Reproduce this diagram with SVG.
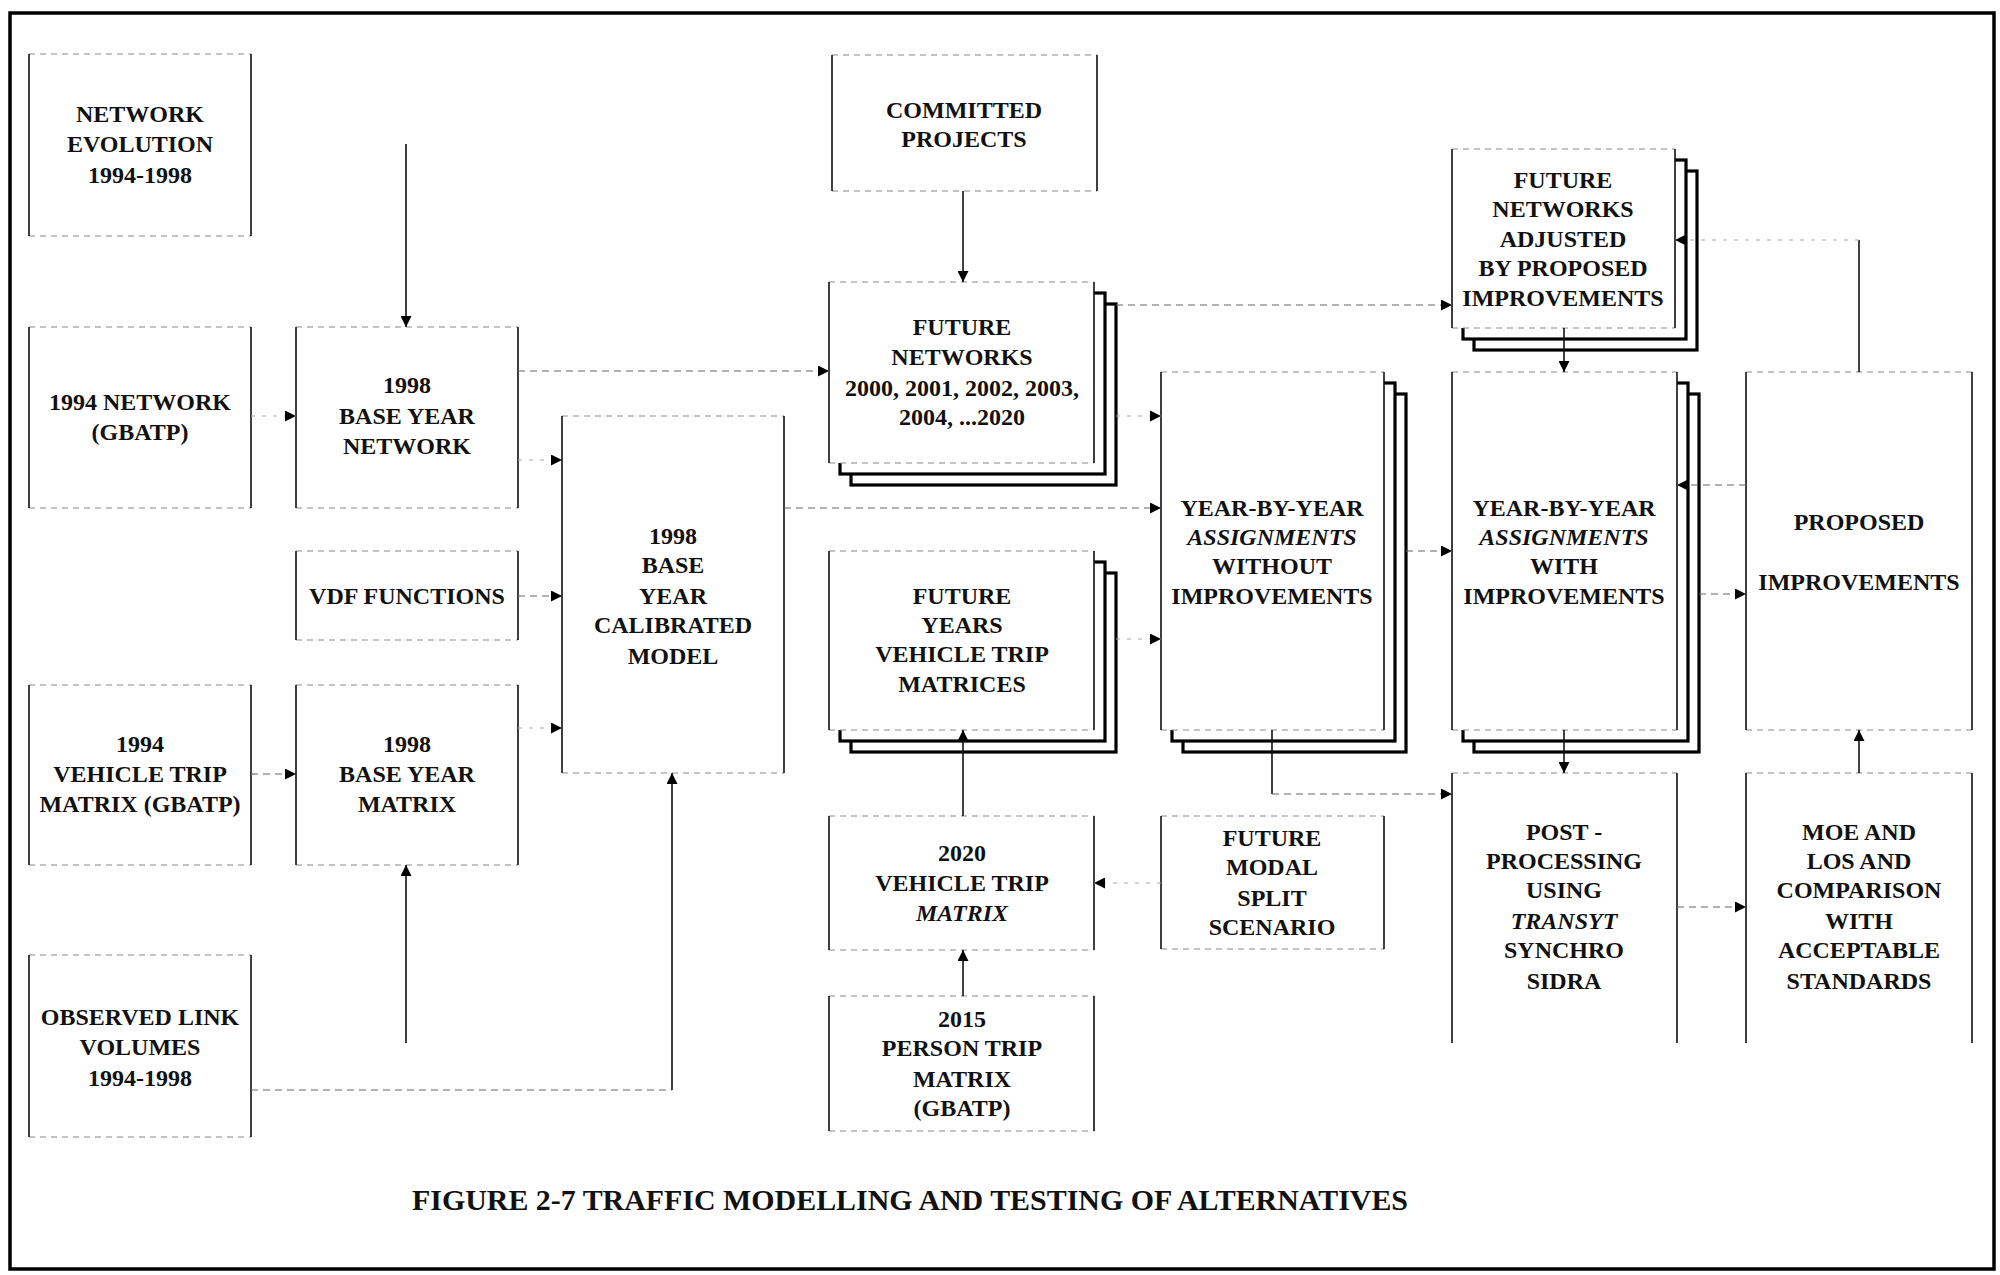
<svg xmlns="http://www.w3.org/2000/svg" width="2000" height="1275" viewBox="0 0 2000 1275">
<style>
.bg{fill:#fff;stroke:none}
.edge{fill:none;stroke:#8a8a8a;stroke-width:1.2;stroke-dasharray:6 5}
.side{fill:none;stroke:#111;stroke-width:1.6}
.layer{fill:#fff;stroke:#000;stroke-width:3.2}
.t{font-family:"Liberation Serif","Times New Roman",serif;font-weight:bold;font-size:24px;text-anchor:middle;fill:#111}
.i{font-style:italic}
.solid{fill:none;stroke:#111;stroke-width:1.6}
.dash{fill:none;stroke:#666;stroke-width:1.2;stroke-dasharray:7 5}
.faint{fill:none;stroke:#aaa;stroke-width:1;stroke-dasharray:4 7}
</style>
<defs>
<marker id="ah" viewBox="0 0 10 10" refX="10" refY="5" markerWidth="12" markerHeight="11" markerUnits="userSpaceOnUse" orient="auto">
<path d="M0,0 L10,5 L0,10 z" fill="#000"/>
</marker>
</defs>
<rect x="0" y="0" width="2000" height="1275" fill="#fff"/>
<rect x="10" y="13" width="1984" height="1256" fill="none" stroke="#000" stroke-width="3.5"/>

<g id="n-network-evolution">
<rect class="bg" x="29" y="54" width="222" height="182"/>
<path class="edge" d="M29 54H251M29 236H251"/>
<path class="side" d="M29 54V236M251 54V236"/>
<text class="t" x="140" y="122">NETWORK</text>
<text class="t" x="140" y="152">EVOLUTION</text>
<text class="t" x="140" y="183">1994-1998</text>
</g>

<g id="n-1994-network">
<rect class="bg" x="29" y="327" width="222" height="181"/>
<path class="edge" d="M29 327H251M29 508H251"/>
<path class="side" d="M29 327V508M251 327V508"/>
<text class="t" x="140" y="410">1994 NETWORK</text>
<text class="t" x="140" y="440">(GBATP)</text>
</g>

<g id="n-1998-base-network">
<rect class="bg" x="296" y="327" width="222" height="181"/>
<path class="edge" d="M296 327H518M296 508H518"/>
<path class="side" d="M296 327V508M518 327V508"/>
<text class="t" x="407" y="393">1998</text>
<text class="t" x="407" y="424">BASE YEAR</text>
<text class="t" x="407" y="454">NETWORK</text>
</g>

<g id="n-vdf">
<rect class="bg" x="296" y="551" width="222" height="89"/>
<path class="edge" d="M296 551H518M296 640H518"/>
<path class="side" d="M296 551V640M518 551V640"/>
<text class="t" x="407" y="604">VDF FUNCTIONS</text>
</g>

<g id="n-1994-vtm">
<rect class="bg" x="29" y="685" width="222" height="180"/>
<path class="edge" d="M29 685H251M29 865H251"/>
<path class="side" d="M29 685V865M251 685V865"/>
<text class="t" x="140" y="752">1994</text>
<text class="t" x="140" y="782">VEHICLE TRIP</text>
<text class="t" x="140" y="812">MATRIX (GBATP)</text>
</g>

<g id="n-1998-base-matrix">
<rect class="bg" x="296" y="685" width="222" height="180"/>
<path class="edge" d="M296 685H518M296 865H518"/>
<path class="side" d="M296 685V865M518 685V865"/>
<text class="t" x="407" y="752">1998</text>
<text class="t" x="407" y="782">BASE YEAR</text>
<text class="t" x="407" y="812">MATRIX</text>
</g>

<g id="n-observed">
<rect class="bg" x="29" y="955" width="222" height="182"/>
<path class="edge" d="M29 955H251M29 1137H251"/>
<path class="side" d="M29 955V1137M251 955V1137"/>
<text class="t" x="140" y="1025">OBSERVED LINK</text>
<text class="t" x="140" y="1055">VOLUMES</text>
<text class="t" x="140" y="1086">1994-1998</text>
</g>

<g id="n-calibrated-model">
<rect class="bg" x="562" y="416" width="222" height="357"/>
<path class="edge" d="M562 416H784M562 773H784"/>
<path class="side" d="M562 416V773M784 416V773"/>
<text class="t" x="673" y="544">1998</text>
<text class="t" x="673" y="573">BASE</text>
<text class="t" x="673" y="604">YEAR</text>
<text class="t" x="673" y="633">CALIBRATED</text>
<text class="t" x="673" y="664">MODEL</text>
</g>

<g id="n-committed">
<rect class="bg" x="832" y="55" width="265" height="136"/>
<path class="edge" d="M832 55H1097M832 191H1097"/>
<path class="side" d="M832 55V191M1097 55V191"/>
<text class="t" x="964" y="118">COMMITTED</text>
<text class="t" x="964" y="147">PROJECTS</text>
</g>

<g id="n-future-networks">
<rect class="layer" x="851" y="304" width="265" height="181"/>
<rect class="layer" x="840" y="293" width="265" height="181"/>
<rect class="bg" x="829" y="282" width="265" height="181"/>
<path class="edge" d="M829 282H1094M829 463H1094"/>
<path class="side" d="M829 282V463M1094 282V463"/>
<text class="t" x="962" y="335">FUTURE</text>
<text class="t" x="962" y="365">NETWORKS</text>
<text class="t" x="962" y="396">2000, 2001, 2002, 2003,</text>
<text class="t" x="962" y="425">2004, ...2020</text>
</g>

<g id="n-future-years-vtm">
<rect class="layer" x="851" y="573" width="265" height="179"/>
<rect class="layer" x="840" y="562" width="265" height="179"/>
<rect class="bg" x="829" y="551" width="265" height="179"/>
<path class="edge" d="M829 551H1094M829 730H1094"/>
<path class="side" d="M829 551V730M1094 551V730"/>
<text class="t" x="962" y="604">FUTURE</text>
<text class="t" x="962" y="633">YEARS</text>
<text class="t" x="962" y="662">VEHICLE TRIP</text>
<text class="t" x="962" y="692">MATRICES</text>
</g>

<g id="n-2020-vtm">
<rect class="bg" x="829" y="816" width="265" height="134"/>
<path class="edge" d="M829 816H1094M829 950H1094"/>
<path class="side" d="M829 816V950M1094 816V950"/>
<text class="t" x="962" y="861">2020</text>
<text class="t" x="962" y="891">VEHICLE TRIP</text>
<text class="t i" x="962" y="921">MATRIX</text>
</g>

<g id="n-2015-ptm">
<rect class="bg" x="829" y="996" width="265" height="135"/>
<path class="edge" d="M829 996H1094M829 1131H1094"/>
<path class="side" d="M829 996V1131M1094 996V1131"/>
<text class="t" x="962" y="1027">2015</text>
<text class="t" x="962" y="1056">PERSON TRIP</text>
<text class="t" x="962" y="1087">MATRIX</text>
<text class="t" x="962" y="1116">(GBATP)</text>
</g>

<g id="n-yby-without">
<rect class="layer" x="1183" y="394" width="223" height="358"/>
<rect class="layer" x="1172" y="383" width="223" height="358"/>
<rect class="bg" x="1161" y="372" width="223" height="358"/>
<path class="edge" d="M1161 372H1384M1161 730H1384"/>
<path class="side" d="M1161 372V730M1384 372V730"/>
<text class="t" x="1272" y="516">YEAR-BY-YEAR</text>
<text class="t i" x="1272" y="545">ASSIGNMENTS</text>
<text class="t" x="1272" y="574">WITHOUT</text>
<text class="t" x="1272" y="604">IMPROVEMENTS</text>
</g>

<g id="n-modal-split">
<rect class="bg" x="1161" y="816" width="223" height="133"/>
<path class="edge" d="M1161 816H1384M1161 949H1384"/>
<path class="side" d="M1161 816V949M1384 816V949"/>
<text class="t" x="1272" y="846">FUTURE</text>
<text class="t" x="1272" y="875">MODAL</text>
<text class="t" x="1272" y="906">SPLIT</text>
<text class="t" x="1272" y="935">SCENARIO</text>
</g>

<g id="n-fn-adjusted">
<rect class="layer" x="1474" y="171" width="223" height="179"/>
<rect class="layer" x="1463" y="160" width="223" height="179"/>
<rect class="bg" x="1452" y="149" width="223" height="179"/>
<path class="edge" d="M1452 149H1675M1452 328H1675"/>
<path class="side" d="M1452 149V328M1675 149V328"/>
<text class="t" x="1563" y="188">FUTURE</text>
<text class="t" x="1563" y="217">NETWORKS</text>
<text class="t" x="1563" y="247">ADJUSTED</text>
<text class="t" x="1563" y="276">BY PROPOSED</text>
<text class="t" x="1563" y="306">IMPROVEMENTS</text>
</g>

<g id="n-yby-with">
<rect class="layer" x="1474" y="394" width="225" height="358"/>
<rect class="layer" x="1463" y="383" width="225" height="358"/>
<rect class="bg" x="1452" y="372" width="225" height="358"/>
<path class="edge" d="M1452 372H1677M1452 730H1677"/>
<path class="side" d="M1452 372V730M1677 372V730"/>
<text class="t" x="1564" y="516">YEAR-BY-YEAR</text>
<text class="t i" x="1564" y="545">ASSIGNMENTS</text>
<text class="t" x="1564" y="574">WITH</text>
<text class="t" x="1564" y="604">IMPROVEMENTS</text>
</g>

<g id="n-proposed">
<rect class="bg" x="1746" y="372" width="226" height="358"/>
<path class="edge" d="M1746 372H1972M1746 730H1972"/>
<path class="side" d="M1746 372V730M1972 372V730"/>
<text class="t" x="1859" y="530">PROPOSED</text>
<text class="t" x="1859" y="590">IMPROVEMENTS</text>
</g>

<g id="n-post-processing">
<rect class="bg" x="1452" y="773" width="225" height="270"/>
<path class="edge" d="M1452 773H1677"/>
<path class="side" d="M1452 773V1043M1677 773V1043"/>
<text class="t" x="1564" y="840">POST -</text>
<text class="t" x="1564" y="869">PROCESSING</text>
<text class="t" x="1564" y="898">USING</text>
<text class="t i" x="1564" y="929">TRANSYT</text>
<text class="t" x="1564" y="958">SYNCHRO</text>
<text class="t" x="1564" y="989">SIDRA</text>
</g>

<g id="n-moe">
<rect class="bg" x="1746" y="773" width="226" height="270"/>
<path class="edge" d="M1746 773H1972"/>
<path class="side" d="M1746 773V1043M1972 773V1043"/>
<text class="t" x="1859" y="840">MOE AND</text>
<text class="t" x="1859" y="869">LOS AND</text>
<text class="t" x="1859" y="898">COMPARISON</text>
<text class="t" x="1859" y="929">WITH</text>
<text class="t" x="1859" y="958">ACCEPTABLE</text>
<text class="t" x="1859" y="989">STANDARDS</text>
</g>

<g id="connectors">
<path class="solid" d="M406 144V327" marker-end="url(#ah)"/>
<path class="faint" d="M251 416H296" marker-end="url(#ah)"/>
<path class="faint" d="M518 460H562" marker-end="url(#ah)"/>
<path class="dash" d="M518 596H562" marker-end="url(#ah)"/>
<path class="dash" d="M251 774H296" marker-end="url(#ah)"/>
<path class="faint" d="M518 728H562" marker-end="url(#ah)"/>
<path class="dash" d="M251 1090H672"/>
<path class="solid" d="M672 1090V773" marker-end="url(#ah)"/>
<path class="solid" d="M406 1043V865" marker-end="url(#ah)"/>
<path class="solid" d="M963 191V282" marker-end="url(#ah)"/>
<path class="dash" d="M518 371H829" marker-end="url(#ah)"/>
<path class="dash" d="M784 508H1161" marker-end="url(#ah)"/>
<path class="faint" d="M1116 416H1161" marker-end="url(#ah)"/>
<path class="faint" d="M1116 639H1161" marker-end="url(#ah)"/>
<path class="dash" d="M1116 305H1452" marker-end="url(#ah)"/>
<path class="solid" d="M1564 328V372" marker-end="url(#ah)"/>
<path class="dash" d="M1406 551H1452" marker-end="url(#ah)"/>
<path class="solid" d="M1272 730V794"/>
<path class="dash" d="M1272 794H1452" marker-end="url(#ah)"/>
<path class="solid" d="M1564 730V773" marker-end="url(#ah)"/>
<path class="dash" d="M1699 594H1746" marker-end="url(#ah)"/>
<path class="dash" d="M1746 485H1677" marker-end="url(#ah)"/>
<path class="solid" d="M1859 372V240"/>
<path class="faint" d="M1859 240H1675" marker-end="url(#ah)"/>
<path class="dash" d="M1677 907H1746" marker-end="url(#ah)"/>
<path class="solid" d="M1859 773V730" marker-end="url(#ah)"/>
<path class="faint" d="M1161 883H1094" marker-end="url(#ah)"/>
<path class="solid" d="M963 996V950" marker-end="url(#ah)"/>
<path class="solid" d="M963 816V730" marker-end="url(#ah)"/>
</g>

<text class="t" x="412" y="1210" style="text-anchor:start;font-size:30px" textLength="996" lengthAdjust="spacingAndGlyphs">FIGURE 2-7 TRAFFIC MODELLING AND TESTING OF ALTERNATIVES</text>
</svg>
